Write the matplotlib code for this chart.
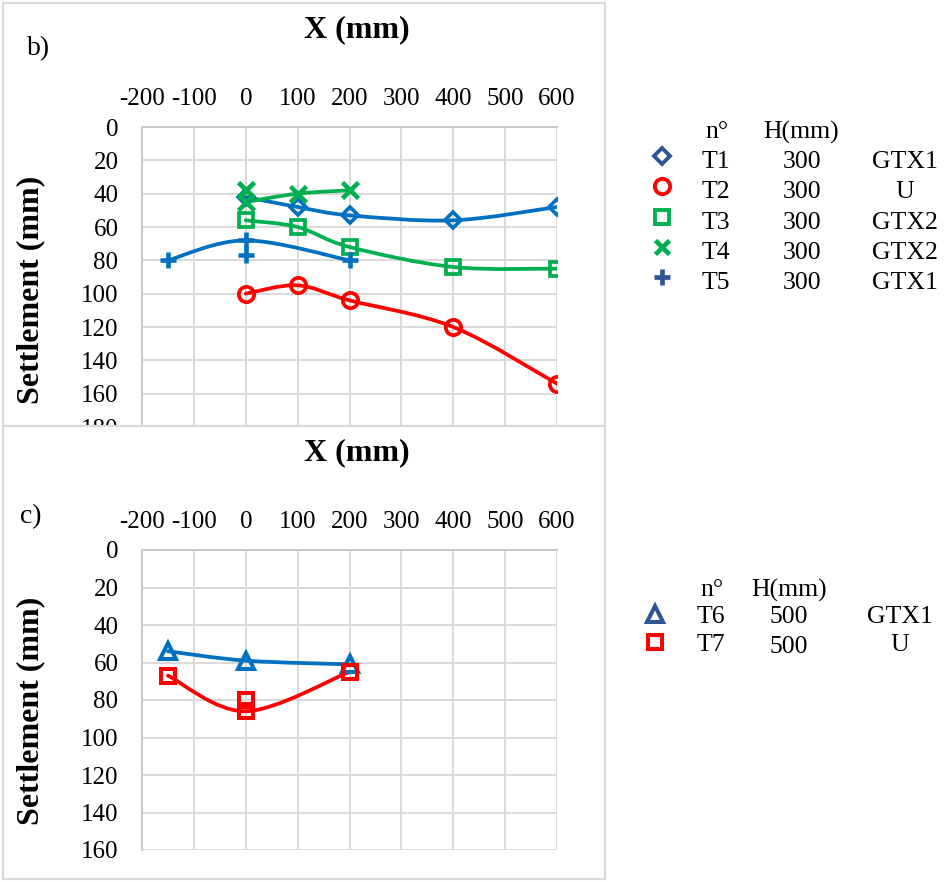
import numpy as np
import matplotlib
matplotlib.use("Agg")
import matplotlib.pyplot as plt
from matplotlib.path import Path
from matplotlib.patches import PathPatch, Rectangle

plt.rcParams['font.family'] = ['Liberation Serif', 'DejaVu Serif']
plt.rcParams['axes.unicode_minus'] = False

# ---- data ----
x_ticks = [-200, -100, 0, 100, 200, 300, 400, 500, 600]

# panel b)
x_T1 = [0, 100, 200, 400, 600]
y_T1 = [42, 48, 53, 56, 48]
x_T2 = [0, 100, 200, 400, 600]
y_T2 = [100, 95, 104, 120, 154]
x_T3 = [0, 100, 200, 400, 600]
y_T3 = [56, 60, 72, 84, 85]
x_T4 = [0, 100, 200]
y_T4 = [45, 40, 38]
x_T4_extra = [0]
y_T4_extra = [38]
x_T5 = [-150, 0, 200]
y_T5 = [80, 68, 80]
x_T5_extra = [0]
y_T5_extra = [77]

# panel c)
x_T6 = [-150, 0, 200]
y_T6 = [54, 59, 61]
x_T7 = [-150, 0, 200]
y_T7 = [67, 86, 65]
x_T7_extra = [0]
y_T7_extra = [80]

names_b = ["T1", "T2", "T3", "T4", "T5"]
heights_b = ["300", "300", "300", "300", "300"]
reinf_b = ["GTX1", "U", "GTX2", "GTX2", "GTX1"]
names_c = ["T6", "T7"]
heights_c = ["500", "500"]
reinf_c = ["GTX1", "U"]

BLUE = "#0070C0"
NAVY = "#2F5597"
RED = "#FF0000"
GREEN = "#00B050"
GRID = "#D9D9D9"

W, H = 946, 882


def smooth_path(xs, ys):
    # excel-like smoothed line (catmull-rom as cubic bezier)
    pts = np.column_stack([xs, ys]).astype(float)
    n = len(pts)
    verts = [pts[0]]
    codes = [Path.MOVETO]
    for i in range(n - 1):
        p0 = pts[i - 1] if i > 0 else pts[i]
        p1 = pts[i]
        p2 = pts[i + 1]
        p3 = pts[i + 2] if i + 2 < n else pts[i + 1]
        verts += [p1 + (p2 - p0) / 6., p2 - (p3 - p1) / 6., p2]
        codes += [Path.CURVE4] * 3
    return Path(verts, codes)


def series(ax, xs, ys, color, marker, ms, mew):
    ax.add_patch(PathPatch(smooth_path(xs, ys), fill=False, ec=color,
                           lw=2.7, zorder=3, capstyle="round"))
    ax.plot(xs, ys, linestyle="none", marker=marker, ms=ms, mew=mew,
            mec=color, mfc="none", zorder=4)


def px_rect(left, top, right, bottom):
    return [left / W, 1 - bottom / H, (right - left) / W, (bottom - top) / H]


def style_axes(ax, ymax):
    ax.set_xlim(-200, 600)
    ax.set_ylim(ymax, 0)
    ax.set_xticks(x_ticks)
    ax.set_yticks(np.arange(0, ymax + 1, 20))
    ax.xaxis.tick_top()
    ax.tick_params(length=0, labelsize=18)
    ax.tick_params(axis="x", pad=12)
    ax.tick_params(axis="y", pad=17)
    ax.grid(True, color=GRID, lw=1.4)
    ax.set_axisbelow(True)
    for s in ["right", "bottom"]:
        ax.spines[s].set_visible(False)
    for s in ["left", "top"]:
        ax.spines[s].set_color("#C9C9C9")
        ax.spines[s].set_linewidth(1.4)


fig = plt.figure(figsize=(W / 100, H / 100), dpi=100)

# panel b)
axb = fig.add_axes(px_rect(142, 127, 557, 427), zorder=0)
style_axes(axb, 180)
series(axb, x_T1, y_T1, BLUE, "D", 8, 2.6)
series(axb, x_T2, y_T2, RED, "o", 11, 2.7)
series(axb, x_T3, y_T3, GREEN, "s", 10, 2.7)
series(axb, x_T4, y_T4, GREEN, "x", 11, 3.3)
axb.plot(x_T4_extra, y_T4_extra, linestyle="none", marker="x", ms=12,
         mew=3.5, mec=GREEN, zorder=4)
series(axb, x_T5, y_T5, BLUE, "+", 12, 3.3)
axb.plot(x_T5_extra, y_T5_extra, linestyle="none", marker="+", ms=12,
         mew=3.3, mec=BLUE, zorder=4)

# overlay for frames, labels and the table-like legends (pixel coords)
ov = fig.add_axes([0, 0, 1, 1], zorder=1)
ov.set_xlim(0, W)
ov.set_ylim(H, 0)
ov.axis("off")
ov.patch.set_visible(False)
ov.add_patch(Rectangle((3, 3), 602, 423, fill=False, ec=GRID, lw=1.5))
ov.add_patch(Rectangle((3, 426), 602, 453, fc="white", ec=GRID, lw=1.5))

# panel c)
axc = fig.add_axes(px_rect(142, 550, 557, 850), zorder=2)
style_axes(axc, 160)
series(axc, x_T6, y_T6, BLUE, "^", 11, 2.9)
series(axc, x_T7, y_T7, RED, "s", 10, 2.9)
axc.plot(x_T7_extra, y_T7_extra, linestyle="none", marker="s", ms=10,
         mew=2.9, mec=RED, mfc="none", zorder=4)

lab = dict(fontsize=23, fontweight="bold", ha="center", va="center")
ov.text(357, 30, "X (mm)", **lab)
ov.text(357, 453, "X (mm)", **lab)
ov.text(31, 290, "Settlement (mm)", rotation=90, **lab)
ov.text(31, 711, "Settlement (mm)", rotation=90, **lab)
ov.text(27, 49, "b)", fontsize=20, va="center")
ov.text(20, 517, "c)", fontsize=20, va="center")

# legend b)
leg = dict(fontsize=18.5, va="center")
ov.text(705, 132, "n°", **leg)
ov.text(801, 132, "H(mm)", ha="center", **leg)
mk_b = [("D", NAVY, 8), ("o", RED, 11), ("s", GREEN, 10), ("x", GREEN, 10), ("+", NAVY, 12)]
for i, (nm, hh, rf) in enumerate(zip(names_b, heights_b, reinf_b)):
    y = 162 + i * 30.3
    m, c, ms = mk_b[i]
    ov.plot([662], [y - 6], linestyle="none", marker=m, ms=ms,
            mew=3.4 if m in "x+" else 2.8, mec=c, mfc="none")
    ov.text(702, y, nm, **leg)
    ov.text(802, y, hh, ha="center", **leg)
    ov.text(905, y, rf, ha="center", **leg)

# legend c)
ov.text(700, 590, "n°", **leg)
ov.text(789, 590, "H(mm)", ha="center", **leg)
mk_c = [("^", NAVY, 11), ("s", RED, 10)]
for i, (nm, hh, rf) in enumerate(zip(names_c, heights_c, reinf_c)):
    y = 617 + i * 28
    m, c, ms = mk_c[i]
    ov.plot([655], [y - 3], linestyle="none", marker=m, ms=ms, mew=2.9,
            mec=c, mfc="none")
    ov.text(697, y, nm, **leg)
    ov.text(789, y + 2 * i, hh, ha="center", **leg)
    ov.text(900, y, rf, ha="center", **leg)

fig.savefig("out.png", dpi=100)
